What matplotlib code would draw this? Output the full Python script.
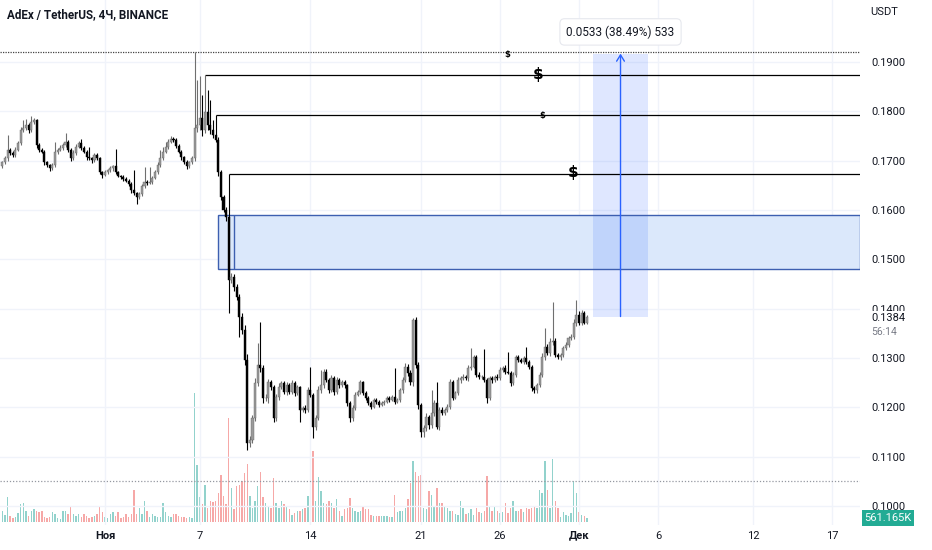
import numpy as np
import pandas as pd
import matplotlib
matplotlib.use('Agg')
import matplotlib.pyplot as plt
import matplotlib.dates as mdates
from matplotlib.patches import Rectangle

plt.rcParams['font.family'] = ['Roboto', 'DejaVu Sans']

# ---- data (4h candles) ----
start_time = '2021-10-25 12:00'
first_open = 0.1690

closes = [
    0.1697, 0.1705, 0.1722, 0.1716, 0.1711, 0.1722, 0.1736, 0.1762, 0.1766, 0.1772,
    0.1762, 0.1778, 0.1782, 0.1732, 0.1722, 0.1718, 0.1697, 0.1691, 0.1685, 0.1691,
    0.1718, 0.1722, 0.1726, 0.1732, 0.1738, 0.1722, 0.1705, 0.1716, 0.1728, 0.1736,
    0.1726, 0.1718, 0.1707, 0.1705, 0.1701, 0.1711, 0.1705, 0.1677, 0.1671, 0.1677,
    0.1681, 0.1685, 0.1689, 0.1677, 0.1669, 0.1667, 0.1663, 0.1659, 0.1653, 0.1641,
    0.1634, 0.1626, 0.1632, 0.1649, 0.1657, 0.1655, 0.1657, 0.1665, 0.1677, 0.1691,
    0.1705, 0.1718, 0.1728, 0.1738, 0.1744, 0.1742, 0.1730, 0.1718, 0.1707, 0.1697,
    0.1689, 0.1697, 0.1705, 0.1766, 0.1772, 0.1786, 0.1762, 0.1799, 0.1772, 0.1762,
    0.1752, 0.1742, 0.1677, 0.1626, 0.1600, 0.1586, 0.1458, 0.1464, 0.1444, 0.1424,
    0.1383, 0.1357, 0.1296, 0.1128, 0.1134, 0.1178, 0.1249, 0.1286, 0.1280, 0.1219,
    0.1219, 0.1251, 0.1241, 0.1178, 0.1221, 0.1241, 0.1249, 0.1231, 0.1245, 0.1231,
    0.1249, 0.1229, 0.1241, 0.1195, 0.1199, 0.1195, 0.1235, 0.1225, 0.1160, 0.1178,
    0.1235, 0.1245, 0.1272, 0.1255, 0.1235, 0.1259, 0.1231, 0.1255, 0.1245, 0.1251,
    0.1245, 0.1209, 0.1178, 0.1199, 0.1225, 0.1231, 0.1251, 0.1229, 0.1219, 0.1209,
    0.1201, 0.1215, 0.1211, 0.1205, 0.1209, 0.1211, 0.1219, 0.1215, 0.1221, 0.1211,
    0.1215, 0.1235, 0.1255, 0.1282, 0.1270, 0.1251, 0.1377, 0.1286, 0.1205, 0.1150,
    0.1158, 0.1180, 0.1164, 0.1189, 0.1209, 0.1160, 0.1195, 0.1189, 0.1195, 0.1201,
    0.1251, 0.1219, 0.1229, 0.1255, 0.1259, 0.1262, 0.1259, 0.1280, 0.1282, 0.1302,
    0.1266, 0.1262, 0.1262, 0.1255, 0.1219, 0.1259, 0.1255, 0.1262, 0.1259, 0.1276,
    0.1280, 0.1272, 0.1270, 0.1249, 0.1266, 0.1302, 0.1296, 0.1292, 0.1300, 0.1292,
    0.1282, 0.1239, 0.1235, 0.1245, 0.1266, 0.1302, 0.1322, 0.1310, 0.1332, 0.1335,
    0.1306, 0.1302, 0.1306, 0.1320, 0.1326, 0.1341, 0.1343, 0.1371, 0.1387, 0.1371,
    0.1391, 0.1371, 0.1384,
]

# wick lengths above / below the body, in 0.0001 USDT
upper_wick = [
    3, 4, 30, 3, 4, 5, 4, 6, 16, 12,
    4, 12, 5, 3, 4, 3, 4, 3, 2, 4,
    20, 4, 5, 3, 18, 4, 3, 5, 6, 4,
    8, 3, 4, 20, 3, 5, 4, 3, 2, 4,
    3, 4, 3, 35, 3, 2, 4, 3, 3, 4,
    40, 3, 5, 4, 30, 3, 30, 4, 5, 6,
    16, 10, 10, 6, 6, 4, 3, 4, 3, 3,
    4, 3, 4, 154, 92, 85, 47, 75, 44, 51,
    20, 41, 6, 4, 5, 6, 87, 8, 6, 5,
    6, 8, 10, 12, 8, 6, 10, 45, 87, 6,
    8, 6, 5, 4, 6, 8, 5, 4, 6, 5,
    6, 4, 5, 3, 4, 5, 6, 47, 4, 6,
    8, 30, 6, 5, 4, 6, 5, 6, 4, 5,
    4, 3, 4, 5, 6, 4, 5, 3, 4, 3,
    3, 4, 3, 3, 4, 3, 4, 3, 4, 59,
    3, 4, 6, 8, 5, 6, 4, 6, 5, 4,
    6, 8, 5, 46, 6, 43, 5, 6, 4, 5,
    6, 4, 5, 6, 4, 5, 3, 6, 38, 5,
    4, 5, 3, 57, 4, 5, 4, 3, 5, 6,
    4, 5, 40, 4, 6, 5, 4, 3, 5, 22,
    4, 3, 4, 5, 6, 8, 38, 6, 8, 79,
    6, 5, 4, 5, 6, 4, 5, 8, 30, 8,
    6, 5, 3,
]
lower_wick = [
    4, 3, 5, 4, 3, 4, 3, 5, 4, 3,
    5, 4, 3, 6, 4, 3, 5, 4, 6, 4,
    3, 4, 3, 4, 5, 4, 6, 3, 4, 3,
    4, 3, 5, 4, 6, 3, 4, 5, 6, 3,
    4, 3, 5, 4, 3, 4, 5, 3, 4, 6,
    4, 14, 4, 3, 5, 4, 3, 4, 3, 4,
    3, 4, 3, 4, 3, 5, 4, 3, 5, 4,
    6, 4, 3, 5, 8, 10, 12, 6, 10, 8,
    6, 5, 8, 6, 5, 8, 67, 6, 8, 6,
    40, 8, 10, 14, 8, 6, 5, 6, 8, 10,
    6, 10, 6, 8, 5, 6, 4, 5, 6, 5,
    4, 6, 5, 24, 4, 6, 5, 4, 22, 5,
    4, 5, 6, 4, 5, 4, 6, 4, 5, 4,
    5, 6, 8, 5, 4, 3, 4, 5, 4, 5,
    4, 3, 4, 5, 3, 4, 3, 4, 3, 4,
    3, 4, 5, 4, 6, 5, 8, 6, 8, 10,
    10, 6, 8, 5, 6, 4, 5, 4, 5, 4,
    5, 4, 3, 4, 5, 3, 4, 5, 4, 3,
    4, 5, 4, 3, 10, 4, 5, 3, 4, 3,
    4, 5, 3, 6, 4, 5, 4, 3, 5, 4,
    4, 5, 6, 6, 4, 5, 6, 4, 5, 6,
    5, 4, 6, 4, 3, 4, 5, 4, 6, 5,
    4, 3, 2,
]

# volume, millions ADX
volumes = [
    1.6, 1.0, 3.5, 0.9, 0.5, 0.7, 1.2, 2.5, 2.7, 1.6,
    0.9, 1.6, 1.8, 1.6, 1.4, 1.6, 0.7, 0.5, 0.7, 1.4,
    1.1, 0.5, 0.4, 1.6, 1.6, 1.1, 2.3, 1.1, 0.9, 1.1,
    0.7, 1.1, 0.9, 0.5, 0.7, 0.9, 1.1, 2.2, 1.4, 0.7,
    0.5, 1.1, 1.4, 0.9, 1.4, 0.5, 0.7, 1.1, 0.7, 1.1,
    4.5, 1.1, 2.0, 1.1, 3.0, 1.6, 0.7, 1.1, 0.9, 0.7,
    0.7, 2.7, 1.4, 0.9, 0.7, 1.1, 1.1, 0.9, 0.7, 0.7,
    0.5, 0.7, 0.5, 18.0, 8.0, 3.5, 2.5, 5.2, 2.0, 3.0,
    2.8, 3.0, 4.0, 6.6, 3.6, 2.5, 14.6, 4.8, 1.8, 5.0,
    5.2, 5.7, 6.8, 8.1, 3.6, 2.0, 3.0, 5.0, 7.0, 3.5,
    2.7, 2.3, 2.0, 6.2, 2.7, 2.0, 3.0, 2.5, 2.2, 1.8,
    1.0, 1.2, 1.6, 1.6, 1.8, 2.0, 3.6, 5.0, 10.0, 3.0,
    6.3, 4.3, 2.7, 2.5, 3.0, 2.7, 2.0, 3.2, 1.5, 0.9,
    1.8, 2.0, 3.4, 2.0, 1.6, 1.4, 1.6, 2.3, 1.8, 1.8,
    1.0, 0.9, 0.9, 0.9, 0.9, 0.9, 0.8, 0.7, 0.7, 3.8,
    1.4, 1.6, 1.6, 2.0, 3.2, 5.5, 8.6, 7.0, 6.4, 6.6,
    2.0, 1.8, 4.3, 3.8, 2.2, 4.8, 2.7, 2.7, 2.3, 2.0,
    1.6, 1.6, 1.1, 1.0, 3.0, 2.0, 1.1, 1.2, 1.8, 1.0,
    2.0, 1.4, 1.3, 1.6, 6.5, 2.3, 1.5, 2.3, 1.6, 1.2,
    1.4, 2.7, 1.2, 2.0, 3.0, 1.5, 1.6, 1.8, 1.4, 2.0,
    1.8, 1.9, 2.3, 2.0, 4.5, 4.0, 8.6, 4.5, 2.0, 8.8,
    3.0, 2.0, 0.7, 1.4, 1.0, 0.9, 1.2, 5.8, 4.1, 1.4,
    1.0, 0.9, 0.561,
]

price_ticks = [0.10, 0.11, 0.12, 0.13, 0.14, 0.15, 0.16, 0.17, 0.18, 0.19]
date_ticks = ['2021-11-01', '2021-11-07', '2021-11-14', '2021-11-21', '2021-11-26',
              '2021-12-01', '2021-12-06', '2021-12-12', '2021-12-17']
date_labels = ['Ноя', '7', '14', '21', '26', 'Дек', '6', '12', '17']

# drawings
level_prices = [0.1920, 0.1874, 0.1793, 0.1673]
level_starts = ['2021-11-06 16:00', '2021-11-07 08:00', '2021-11-08 00:00', '2021-11-08 20:00']
zone_low, zone_high = 0.1480, 0.1590
zone_start, zone_split = '2021-11-08 04:00', '2021-11-09 04:00'
meas_low, meas_high = 0.1384, 0.1917
meas_start, meas_end = '2021-12-01 21:00', '2021-12-05 09:00'
meas_text = '0.0533 (38.49%) 533'
dollar_times = ['2021-11-26 10:30', '2021-11-28 10:00', '2021-11-28 16:00', '2021-11-30 15:00']
dollar_prices = [0.1916, 0.1874, 0.1791, 0.1677]
dollar_big = [False, True, False, True]
hline_dotted = 0.1051
last_price_text = '0.1384'
countdown_text = '56:14'
last_volume_text = '561.165K'


def d2n(s):
    return mdates.date2num(pd.Timestamp(s).to_pydatetime())


times = pd.date_range(start_time, periods=len(closes), freq='4h')
xs = mdates.date2num(times.to_pydatetime())
c = np.array(closes)
o = np.concatenate([[first_open], c[:-1]])
h = np.maximum(o, c) + np.array(upper_wick) * 1e-4
l = np.minimum(o, c) - np.array(lower_wick) * 1e-4
up = c >= o

W, H = 932, 550
fig = plt.figure(figsize=(W / 100, H / 100), dpi=100)
rect = [0, 25 / H, 860 / W, 525 / H]
vax = fig.add_axes(rect)
ax = fig.add_axes(rect, sharex=vax)
ax.set_zorder(2)
vax.set_zorder(1)
ax.patch.set_visible(False)

x_left, x_right = d2n('2021-10-25 08:30'), d2n('2021-12-18 18:45')
y_low, y_high = 0.09614, 0.20257

# volume
vcol = np.where(up, '#26a69a', '#ef5350')
vax.bar(xs, volumes, width=0.09, color=vcol, alpha=0.5, linewidth=0)
vax.set_ylim(-0.42, 73.08)
vax.set_yticks([])
for s in vax.spines.values():
    s.set_visible(False)

# grid on price axes, under everything
for t in date_ticks:
    ax.axvline(d2n(t), color='#f0f3fa', lw=1, zorder=0)
for p in price_ticks:
    ax.axhline(p, color='#f0f3fa', lw=1, zorder=0)

# zone + measurement
ax.add_patch(Rectangle((d2n(zone_start), zone_low), x_right - d2n(zone_start), zone_high - zone_low,
                       facecolor='#dbe8fb', edgecolor='none', zorder=1))
ax.add_patch(Rectangle((d2n(zone_start), zone_low), x_right - d2n(zone_start), zone_high - zone_low,
                       facecolor='none', edgecolor='#3d5fb0', lw=1, zorder=1.5))
ax.vlines(d2n(zone_split), zone_low, zone_high, color='#3d5fb0', lw=1, zorder=1.5)

ax.add_patch(Rectangle((d2n(meas_start), meas_low), d2n(meas_end) - d2n(meas_start), meas_high - meas_low,
                       facecolor='#2962ff', alpha=0.15, edgecolor='none', zorder=1.2))
mid = (d2n(meas_start) + d2n(meas_end)) / 2
ax.annotate('', xy=(mid, meas_high), xytext=(mid, meas_low),
            arrowprops=dict(arrowstyle='->,head_length=0.45,head_width=0.28', color='#2962ff', lw=1,
                            shrinkA=0, shrinkB=0),
            zorder=3)
ax.text(mid, 0.1961, meas_text, ha='center', va='center', fontsize=8.5, color='#131722', zorder=5,
        bbox=dict(boxstyle='round,pad=0.55,rounding_size=0.4', facecolor='white', edgecolor='#e6e8ee', lw=0.8))

# levels
ax.hlines(level_prices[0], x_left, x_right, colors='#444444', lw=0.9, linestyles=(0, (1, 1)), zorder=2)
for p, t in zip(level_prices[1:], level_starts[1:]):
    ax.hlines(p, d2n(t), x_right, colors='black', lw=0.9, zorder=2)
ax.hlines(hline_dotted, x_left, x_right, colors='#9598a1', lw=0.9, linestyles=(0, (1, 1.5)), zorder=2)

for t, p, big in zip(dollar_times, dollar_prices, dollar_big):
    ax.text(d2n(t), p, '$', ha='center', va='center', fontsize=11 if big else 6,
            fontweight='bold', color='black', zorder=4, family='DejaVu Sans')

# candles
ccol = np.where(up, '#9a9a9a', '#000000')
ax.vlines(xs, l, h, colors=np.where(up, '#6f6f6f', '#000000'), lw=0.8, zorder=3)
body = np.maximum(np.abs(c - o), 0.00004)
ax.bar(xs, body, bottom=np.minimum(o, c), width=0.13, color=ccol, edgecolor=np.where(up, '#666666', '#000000'),
       linewidth=0.3, zorder=3.5)

ax.set_xlim(x_left, x_right)
ax.set_ylim(y_low, y_high)
ax.yaxis.tick_right()
ax.set_yticks(price_ticks)
ax.set_yticklabels(['%.4f' % p for p in price_ticks])
ax.tick_params(axis='y', length=0, pad=8, labelsize=8, labelcolor='#131722')
ax.set_xticks([d2n(t) for t in date_ticks])
ax.set_xticklabels(date_labels)
ax.tick_params(axis='x', length=0, pad=4, labelsize=8, labelcolor='#131722')
for lab in ax.get_xticklabels():
    if lab.get_text() in ('Ноя', 'Дек'):
        lab.set_fontweight('bold')
vax.tick_params(axis='x', length=0, labelbottom=False)
for s in ax.spines.values():
    s.set_visible(False)

# header + axis overlays
fig.text(7 / W, 1 - 15 / H, 'AdEx / TetherUS, 4Ч, BINANCE', fontsize=8.4, fontweight='bold',
         color='#131722', va='center')
fig.text(870 / W, 1 - 12 / H, 'USDT', fontsize=8, color='#131722', va='center')
fig.text(871 / W, 1 - 318 / H, last_price_text, fontsize=8, color='#131722', va='center', zorder=10,
         bbox=dict(boxstyle='square,pad=0.15', facecolor='white', edgecolor='none'))
fig.text(871 / W, 1 - 332 / H, countdown_text, fontsize=7.5, color='#787b86', va='center', zorder=10)
fig.text(888 / W, 1 - 518 / H, last_volume_text, fontsize=8, color='white', va='center', ha='center', zorder=10,
         bbox=dict(boxstyle='square,pad=0.25', facecolor='#22ab94', edgecolor='none'))

fig.savefig('out.png', dpi=100)
